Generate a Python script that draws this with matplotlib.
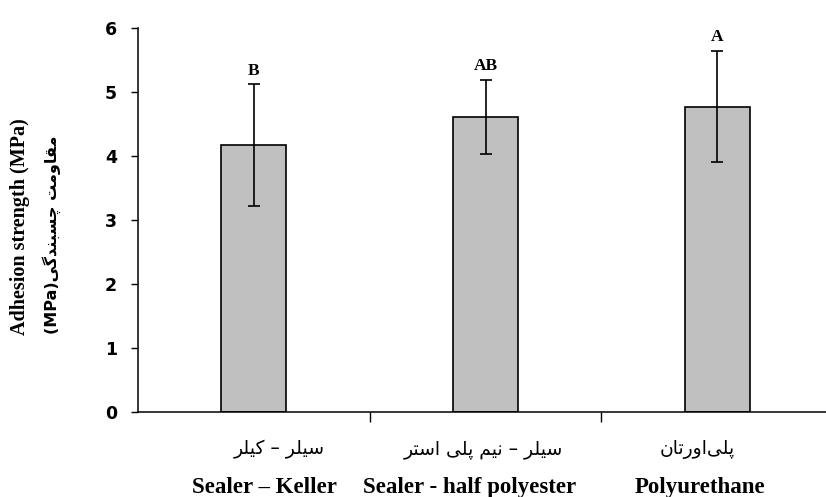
import matplotlib
matplotlib.use("Agg")
import matplotlib.pyplot as plt

# data
means = [4.17, 4.61, 4.77]
errors = [0.95, 0.58, 0.87]
letters = ["B", "AB", "A"]
labels_en = ["Sealer \u2013 Keller", "Sealer - half polyester", "Polyurethane"]
labels_fa = ["سیلر \u2013 کیلر", "سیلر \u2013 نیم پلی استر", "پلی\u200cاورتان"]
ylabel_en = "Adhesion strength (MPa)"
ylabel_fa = "مقاومت چسبندگی"
yticks = [0, 1, 2, 3, 4, 5, 6]

# label boxes are not centred under the bars in the original (pixel x)
en_xpix = [264, 470, 700]
fa_xpix = [279, 483, 697]

# isolated, final, initial, medial presentation forms
FORMS = {
    'ا': ('\uFE8D', '\uFE8E', None, None),
    'ب': ('\uFE8F', '\uFE90', '\uFE91', '\uFE92'),
    'پ': ('\uFB56', '\uFB57', '\uFB58', '\uFB59'),
    'ت': ('\uFE95', '\uFE96', '\uFE97', '\uFE98'),
    'چ': ('\uFB7A', '\uFB7B', '\uFB7C', '\uFB7D'),
    'د': ('\uFEA9', '\uFEAA', None, None),
    'ر': ('\uFEAD', '\uFEAE', None, None),
    'س': ('\uFEB1', '\uFEB2', '\uFEB3', '\uFEB4'),
    'ق': ('\uFED5', '\uFED6', '\uFED7', '\uFED8'),
    'ک': ('\uFB8E', '\uFB8F', '\uFB90', '\uFB91'),
    'گ': ('\uFB92', '\uFB93', '\uFB94', '\uFB95'),
    'ل': ('\uFEDD', '\uFEDE', '\uFEDF', '\uFEE0'),
    'م': ('\uFEE1', '\uFEE2', '\uFEE3', '\uFEE4'),
    'ن': ('\uFEE5', '\uFEE6', '\uFEE7', '\uFEE8'),
    'و': ('\uFEED', '\uFEEE', None, None),
    'ی': ('\uFBFC', '\uFBFD', '\uFBFE', '\uFBFF'),
}


def fa(text):
    # crude shaping + reversal, matplotlib has no bidi support
    out = []
    for i, ch in enumerate(text):
        if ch not in FORMS:
            out.append(ch)
            continue
        iso, fin, ini, med = FORMS[ch]
        prev = text[i - 1] if i > 0 else ''
        nxt = text[i + 1] if i + 1 < len(text) else ''
        jp = prev in FORMS and FORMS[prev][2] is not None
        jn = ini is not None and nxt in FORMS
        if jp and jn:
            out.append(med)
        elif jp:
            out.append(fin)
        elif jn:
            out.append(ini)
        else:
            out.append(iso)
    return ''.join(out)[::-1].replace('\u200c', '')


W, H = 826, 497
fig = plt.figure(figsize=(W / 100, H / 100), dpi=100)
ax = fig.add_axes([138 / W, 85 / H, (833 - 138) / W, 384 / H])

x = list(range(len(means)))
ax.bar(x, means, width=0.28, color='#c0c0c0', edgecolor='black', linewidth=1.2, zorder=2)
ax.errorbar(x, means, yerr=errors, fmt='none', ecolor='black', elinewidth=1.2,
            capsize=4.3, capthick=1.2, zorder=3)

for xi, m, e, lt in zip(x, means, errors, letters):
    ax.annotate(lt, (xi, m + e), xytext=(0, 4), textcoords='offset points',
                ha='center', va='bottom', fontsize=12.5, fontweight='bold',
                family='Liberation Serif')

ax.set_xlim(-0.5, 2.5)
ax.set_ylim(0, 6)
ax.set_yticks(yticks)
ax.set_yticklabels([str(t) for t in yticks], fontsize=12.5, fontweight='bold',
                   family='DejaVu Sans')
ax.set_xticks([0.5, 1.5])
ax.set_xticklabels([])
ax.tick_params(axis='y', direction='out', length=5, width=1, pad=10)
ax.tick_params(axis='x', direction='out', length=7, width=1)

for side in ['top', 'right']:
    ax.spines[side].set_visible(False)
ax.spines['left'].set_linewidth(1.1)
ax.spines['bottom'].set_linewidth(1.1)

for px_en, px_fa, en, lf in zip(en_xpix, fa_xpix, labels_en, labels_fa):
    fig.text(px_fa / W, 1 - 454 / H, fa(lf), ha='center', va='baseline',
             fontsize=13.5, family='DejaVu Sans')
    fig.text(px_en / W, 1 - 493 / H, en, ha='center', va='baseline',
             fontsize=16.5, fontweight='bold', family='Liberation Serif')

fig.text(20 / W, 1 - 227 / H, ylabel_en, rotation=90, ha='center', va='center',
         fontsize=14.5, fontweight='bold', family='Liberation Serif')
fig.text(52 / W, 1 - 235 / H, "(MPa)" + fa(ylabel_fa), rotation=90,
         ha='center', va='center', fontsize=11.5, fontweight='bold',
         family=['DejaVu Sans'])

fig.savefig('out.png', dpi=100)
